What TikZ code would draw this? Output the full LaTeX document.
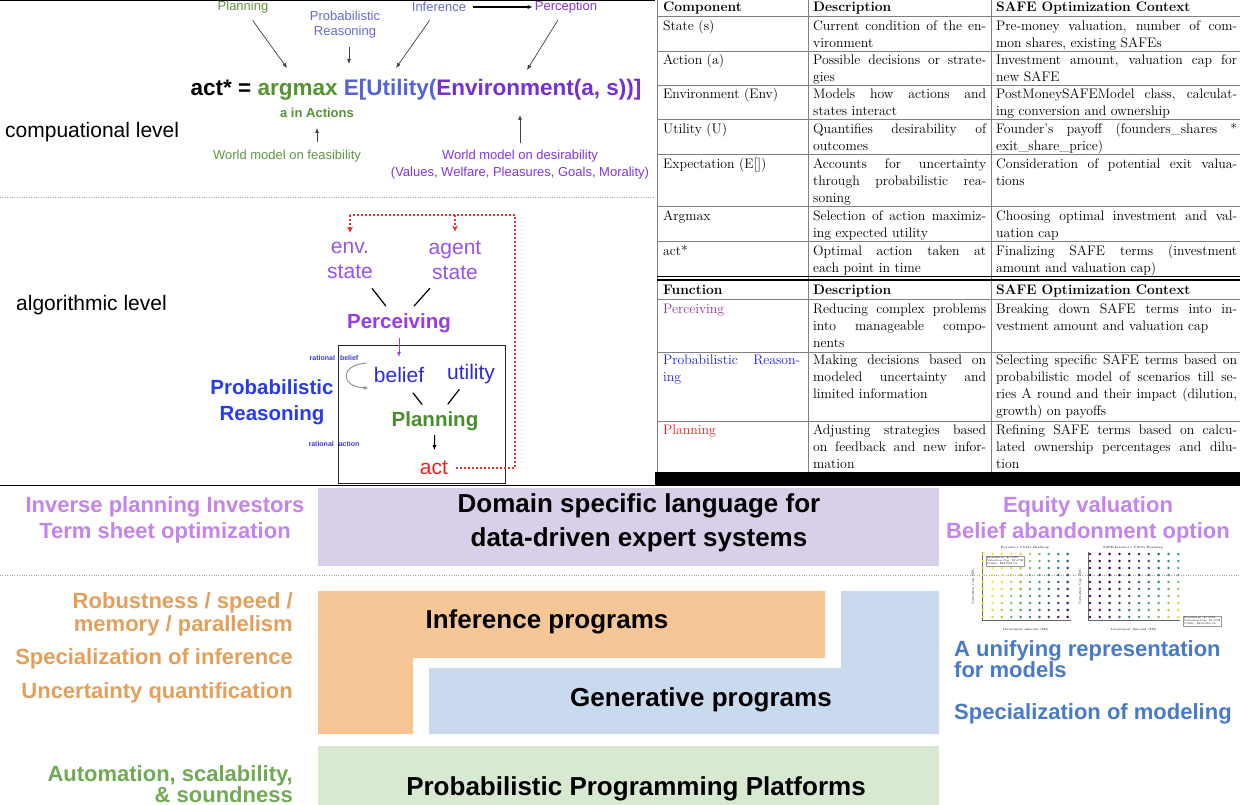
\documentclass[tikz,border=0pt]{standalone}
\usepackage{fontspec}
\newfontfamily\arial{Liberation Sans}
\usetikzlibrary{arrows.meta,calc,positioning}

\definecolor{plangreen}{RGB}{96,150,64}
\definecolor{problue}{RGB}{104,104,214}
\definecolor{eqgreen}{RGB}{84,148,52}
\definecolor{eqblue}{RGB}{84,100,214}
\definecolor{eqpurple}{RGB}{118,48,210}
\definecolor{percpurple}{RGB}{132,52,222}
\definecolor{statepurple}{RGB}{150,84,232}
\definecolor{percvpurple}{RGB}{150,60,232}
\definecolor{beliefblue}{RGB}{44,44,214}
\definecolor{prblue}{RGB}{40,60,232}
\definecolor{plangreenB}{RGB}{74,142,44}
\definecolor{actred}{RGB}{232,34,30}
\definecolor{fbred}{RGB}{232,48,44}
\definecolor{tinyblue}{RGB}{60,60,204}
\definecolor{rulegray}{RGB}{128,128,128}
\definecolor{perctab}{RGB}{150,50,150}
\definecolor{probtab}{RGB}{30,30,235}
\definecolor{plantab}{RGB}{235,30,30}
\definecolor{lavbox}{RGB}{216,208,232}
\definecolor{peachbox}{RGB}{246,198,150}
\definecolor{bluebox}{RGB}{201,218,239}
\definecolor{greenbox}{RGB}{216,233,210}
\definecolor{lavtext}{RGB}{196,132,234}
\definecolor{orgtext}{RGB}{226,160,92}
\definecolor{grntext}{RGB}{112,170,82}
\definecolor{blutext}{RGB}{72,122,200}
\definecolor{vpur}{RGB}{68,1,84}
\definecolor{vteal}{RGB}{33,145,140}
\definecolor{vyel}{RGB}{253,231,37}

\newcommand\sz[2]{\fontsize{#1}{#2}\selectfont}
\newcommand\ja[1]{\makebox[137pt][s]{#1}}
\newcommand\jb[1]{\makebox[173pt][s]{#1}}
\newcommand\jc[1]{\makebox[241pt][s]{#1}}

\begin{document}
\begin{tikzpicture}[x=1pt,y=-1pt,
  every node/.style={inner sep=0pt},
  lbl/.style={font=\arial\sz{13}{15}, align=center},
  stlbl/.style={font=\arial\sz{21}{25}, align=center, text=statepurple},
  bigb/.style={font=\arial\bfseries\sz{20.5}{26}, align=center},
  tinylbl/.style={font=\arial\bfseries\sz{7}{8}, text=tinyblue},
  arr/.style={-{Latex[length=5pt,width=4pt]}, draw=black!75, line width=0.7pt},
  bar/.style={line width=1.2pt, line cap=round},
  fb/.style={draw=fbred, line width=1.3pt, dash pattern=on 2pt off 2pt},
  sepline/.style={draw=black!35, line width=0.9pt, dash pattern=on 0.8pt off 1.6pt},
  rule/.style={draw=rulegray, line width=0.8pt},
  cell/.style={anchor=north west, yshift=11.9pt, align=left, font=\sz{13.8}{17}},
  bot/.style={font=\arial\bfseries\sz{26}{34}, align=center},
  side/.style={font=\arial\bfseries\sz{22}{26}},
]
\fill[white] (0,0) rectangle (1240,805);
\useasboundingbox (0,0) rectangle (1240,805);

% ---- computational level
\draw[line width=1pt] (0,0.5) -- (655,0.5);
\node[lbl, text=plangreen] (tplan) at (243,7) {Planning};
\node[lbl, text=problue] (tprob) at (345,25) {Probabilistic\\Reasoning};
\node[lbl, text=problue] (tinf) at (439,7) {Inference};
\node[lbl, text=percpurple] (tperc) at (566,7) {Perception};
\draw[arr, draw=black, line width=1.1pt, shorten <=7pt, shorten >=2pt] (tinf) -- (tperc);

\node[font=\arial\bfseries\sz{22.5}{27}, anchor=base] (eq) at (416,96)
  {act* = \textcolor{eqgreen}{argmax} \textcolor{eqblue}{E[Utility(}\textcolor{eqpurple}{Environment(a, s))]}};
\coordinate (eqArg) at (287,68);
\coordinate (eqE) at (349,64);
\coordinate (eqUt) at (396,68);
\coordinate (eqEnv) at (527,70);
\draw[arr] ($(tplan)!0.22!(eqArg)$) -- (eqArg);
\draw[arr] ($(tprob.south -| eqE)+(0,8)$) -- (eqE);
\draw[arr] ($(tinf)!0.22!(eqUt)$) -- (eqUt);
\draw[arr] ($(tperc)!0.21!(eqEnv)$) -- (eqEnv);

\node[font=\arial\bfseries\sz{13}{15}, text=eqgreen] (ain) at (317,113) {a in Actions};
\node[lbl, text=plangreen] (wfeas) at (287,156) {World model on feasibility};
\node[lbl, text=percpurple, font=\arial\sz{13}{17}] (wdes) at (520,165)
  {World model on desirability\\(Values, Welfare, Pleasures, Goals, Morality)};
\draw[arr] ($(wfeas.north -| ain)+(0,-8)$) -- ($(ain.south)+(0,10)$);
\draw[arr] ($(wdes.north)+(0,-7)$) -- ($(eq.south -| wdes)+(0,14)$);

\node[font=\arial\sz{21}{25}, anchor=west] (complvl) at (5,132) {compuational level};
\draw[sepline] (0,197) -- (655,197);

% ---- algorithmic level
\node[font=\arial\sz{21}{25}, anchor=west] (alglvl) at (16,305) {algorithmic level};
\node[stlbl] (envst) at (350,260) {env.\\state};
\node[stlbl] (agst) at (455,260) {agent\\state};
\node[bigb, text=percvpurple] (perc) at (399,323) {Perceiving};
\draw[bar] ($(envst)!0.45!(perc)$) -- ($(envst)!0.73!(perc)$);
\draw[bar] ($(agst)!0.45!(perc)$) -- ($(agst)!0.73!(perc)$);

\node[draw=black!85, line width=1pt, minimum width=167, minimum height=138] (pbox) at (421.5,414) {};
\node[font=\arial\sz{21}{25}, text=beliefblue] (belief) at (399,375) {belief};
\node[font=\arial\sz{21}{25}, text=beliefblue] (util) at (471,374) {utility};
\node[bigb, text=plangreenB] (plan) at (435,421) {Planning};
\node[font=\arial\sz{21}{25}, text=actred] (act) at (434,468) {act};
\draw[arr, draw=percvpurple] ($(perc)!0.29!(belief)$) -- ($(perc)!0.65!(belief)$);
\draw[bar] ($(belief)!0.39!(plan)$) -- ($(belief)!0.64!(plan)$);
\draw[bar] ($(util)!0.33!(plan)$) -- ($(util)!0.64!(plan)$);
\draw[arr, draw=black, line width=1.1pt] ($(plan)!0.3!(act)$) -- ($(plan)!0.62!(act)$);

\node[bigb, text=prblue] (probr) at (272,402) {Probabilistic\\Reasoning};
\node[tinylbl] (ratb) at (334,358) {rational\hspace{5pt}belief};
\node[tinylbl] (rata) at (334,444) {rational\hspace{5pt}action};
\draw[-{Latex[length=5pt,width=4pt]}, draw=black!45, line width=0.9pt]
  ($(belief.west)+(-7,-12)$) .. controls +(-28,2) and +(-28,-1) .. ($(belief.west)+(-5,13)$);

\coordinate (fbR) at (515,215);
\draw[fb] ([xshift=8pt]act.east) -| (fbR) -- (fbR -| envst);
\draw[fb, -{Stealth[length=6pt,width=6pt]}] (fbR -| envst) -- ([yshift=9pt]envst.north);
\draw[fb, -{Stealth[length=6pt,width=6pt]}] (fbR -| agst) -- ([yshift=9pt]agst.north);

% ---- component table
\foreach \yy in {16,51,85,119,154,206,241,299,352,421}
  \draw[rule] (657,\yy) -- (1240,\yy);
\foreach \xx in {657,808,991}
  \draw[rule] (\xx,0) -- (\xx,472);
\draw[black, line width=0.8pt] (657,276.5) -- (1240,276.5);
\draw[black, line width=1.4pt] (657,280) -- (1240,280);
\fill[black] (655,472) rectangle (1240,486);
\draw[line width=1.2pt] (0,485.5) -- (655,485.5);

\node[cell] (h1a) at (663,11) {\strut\bfseries Component};
\node[cell] (h1b) at (813,11) {\strut\bfseries Description};
\node[cell] (h1c) at (996,11) {\strut\bfseries SAFE Optimization Context};
\node[cell] (s1a) at (663,30) {\strut State (s)};
\node[cell] (s1b) at (813,30) {\strut\jb{Current condition of the en-}\\vironment};
\node[cell] (s1c) at (996,30) {\strut\jc{Pre-money valuation, number of com-}\\mon shares, existing SAFEs};
\node[cell] (a1a) at (663,64) {\strut Action (a)};
\node[cell] (a1b) at (813,64) {\strut\jb{Possible decisions or strate-}\\gies};
\node[cell] (a1c) at (996,64) {\strut\jc{Investment amount, valuation cap for}\\new SAFE};
\node[cell] (e1a) at (663,98) {\strut Environment (Env)};
\node[cell] (e1b) at (813,98) {\strut\jb{Models how actions and}\\states interact};
\node[cell] (e1c) at (996,98) {\strut\jc{PostMoneySAFEModel class, calculat-}\\ing conversion and ownership};
\node[cell] (u1a) at (663,133) {\strut Utility (U)};
\node[cell] (u1b) at (813,133) {\strut\jb{Quantifies desirability of}\\outcomes};
\node[cell] (u1c) at (996,133) {\strut\jc{Founder's payoff (founders\_shares *}\\exit\_share\_price)};
\node[cell] (x1a) at (663,168) {\strut Expectation (E[])};
\node[cell] (x1b) at (813,168) {\strut\jb{Accounts for uncertainty}\\\jb{through probabilistic rea-}\\soning};
\node[cell] (x1c) at (996,168) {\strut\jc{Consideration of potential exit valua-}\\tions};
\node[cell] (m1a) at (663,220) {\strut Argmax};
\node[cell] (m1b) at (813,220) {\strut\jb{Selection of action maximiz-}\\ing expected utility};
\node[cell] (m1c) at (996,220) {\strut\jc{Choosing optimal investment and val-}\\uation cap};
\node[cell] (t1a) at (663,255) {\strut act*};
\node[cell] (t1b) at (813,255) {\strut\jb{Optimal action taken at}\\each point in time};
\node[cell] (t1c) at (996,255) {\strut\jc{Finalizing SAFE terms (investment}\\amount and valuation cap)};

% ---- function table
\node[cell] (h2a) at (663,294) {\strut\bfseries Function};
\node[cell] (h2b) at (813,294) {\strut\bfseries Description};
\node[cell] (h2c) at (996,294) {\strut\bfseries SAFE Optimization Context};
\node[cell, text=perctab] (p2a) at (663,313) {\strut Perceiving};
\node[cell] (p2b) at (813,313) {\strut\jb{Reducing complex problems}\\\jb{into manageable compo-}\\nents};
\node[cell] (p2c) at (996,313) {\strut\jc{Breaking down SAFE terms into in-}\\vestment amount and valuation cap};
\node[cell, text=probtab] (r2a) at (663,364) {\strut\ja{Probabilistic Reason-}\\ing};
\node[cell] (r2b) at (813,364) {\strut\jb{Making decisions based on}\\\jb{modeled uncertainty and}\\limited information};
\node[cell] (r2c) at (996,364) {\strut\jc{Selecting specific SAFE terms based on}\\\jc{probabilistic model of scenarios till se-}\\\jc{ries A round and their impact (dilution,}\\growth) on payoffs};
\node[cell, text=plantab] (l2a) at (663,434) {\strut Planning};
\node[cell] (l2b) at (813,434) {\strut\jb{Adjusting strategies based}\\\jb{on feedback and new infor-}\\mation};
\node[cell] (l2c) at (996,434) {\strut\jc{Refining SAFE terms based on calcu-}\\\jc{lated ownership percentages and dilu-}\\tion};

% ---- program stack
\fill[lavbox] (318,488) rectangle (939,566);
\fill[peachbox] (318,591) -- (825,591) -- (825,658) -- (413,658) -- (413,734) -- (318,734) -- cycle;
\fill[bluebox] (841,591) -- (939,591) -- (939,734) -- (429,734) -- (429,668) -- (841,668) -- cycle;
\fill[greenbox] (318,746) rectangle (939,805);
\draw[sepline] (0,575) -- (1240,575);

\node[bot] (dsl) at (639,523) {Domain specific language for\\data-driven expert systems};
\node[bot] (infprog) at (547,622) {Inference programs};
\node[bot] (genprog) at (701,700) {Generative programs};
\node[bot] (ppp) at (636,789) {Probabilistic Programming Platforms};

\node[side, text=lavtext, align=center] (invp) at (165,520) {Inverse planning Investors\\Term sheet optimization};
\node[side, text=orgtext, align=right, anchor=east, font=\arial\bfseries\sz{22}{23}] (robust) at (293,614) {Robustness / speed /\\memory / parallelism};
\node[side, text=orgtext, anchor=east] (specinf) at (293,659) {Specialization of inference};
\node[side, text=orgtext, anchor=east] (uncq) at (293,693) {Uncertainty quantification};
\node[side, text=grntext, align=right, anchor=east, font=\arial\bfseries\sz{22}{21}] (autom) at (293,784) {Automation, scalability,\\\& soundness};
\node[side, text=lavtext, align=center] (eqval) at (1088,520) {Equity valuation\\Belief abandonment option};
\node[side, text=blutext, align=left, anchor=west, font=\arial\bfseries\sz{22}{20}] (unif) at (954,659) {A unifying representation\\for models};
\node[side, text=blutext, anchor=west] (specmod) at (954,714) {Specialization of modeling};

% ---- utility heatmaps
\begin{scope}[font=\sz{3}{3.5}]
  \node (hmL) at (1025,548) {Founder's Utility Heatmap};
  \node (hmR) at (1133,548) {SAFE Investor's Utility Heatmap};
  \draw[black!60, line width=0.3pt] (982,552) -- (982,620) -- (1071,620);
  \draw[black!60, line width=0.3pt] (1088,552) -- (1088,620) -- (1180,620);
  \foreach \i in {0,...,9} \foreach \j in {0,...,9} {
    \pgfmathtruncatemacro\v{max(0,min(100,100-11*\i+4*\j))}
    \ifnum\v>50 \pgfmathtruncatemacro\w{2*(\v-50)}\colorlet{dotc}{vyel!\w!vteal}%
    \else \pgfmathtruncatemacro\w{2*\v}\colorlet{dotc}{vteal!\w!vpur}\fi
    \fill[dotc] (983+9.4*\i,617-7*\j) circle (1.4);
    \pgfmathtruncatemacro\v{max(0,min(100,11*\i-5*\j))}
    \ifnum\v>50 \pgfmathtruncatemacro\w{2*(\v-50)}\colorlet{dotc}{vyel!\w!vteal}%
    \else \pgfmathtruncatemacro\w{2*\v}\colorlet{dotc}{vteal!\w!vpur}\fi
    \fill[dotc] (1090+9.8*\i,617-7*\j) circle (1.4);
  }
  \node[draw=black!40, fill=white, align=left, font=\sz{2.6}{3}, inner sep=0.8pt, anchor=north west] (annL) at (986,556)
    {Investment: \$0.20M\\Valuation Cap: \$7.67M\\Utility: \$887933.54};
  \node[draw=black!40, fill=white, align=left, font=\sz{2.6}{3}, inner sep=0.8pt, anchor=north west] (annR) at (1183,616)
    {Investment: \$1.00M\\Valuation Cap: \$5.00M\\Utility: \$2000000.00};
  \node (axL) at (1026,630) {Investment Amount (\$M)};
  \node (axR) at (1134,630) {Investment Amount (\$M)};
  \node[rotate=90] (ayL) at (973,586) {Valuation Cap (\$M)};
  \node[rotate=90] (ayR) at (1080,586) {Valuation Cap (\$M)};
\end{scope}
\end{tikzpicture}
\end{document}
